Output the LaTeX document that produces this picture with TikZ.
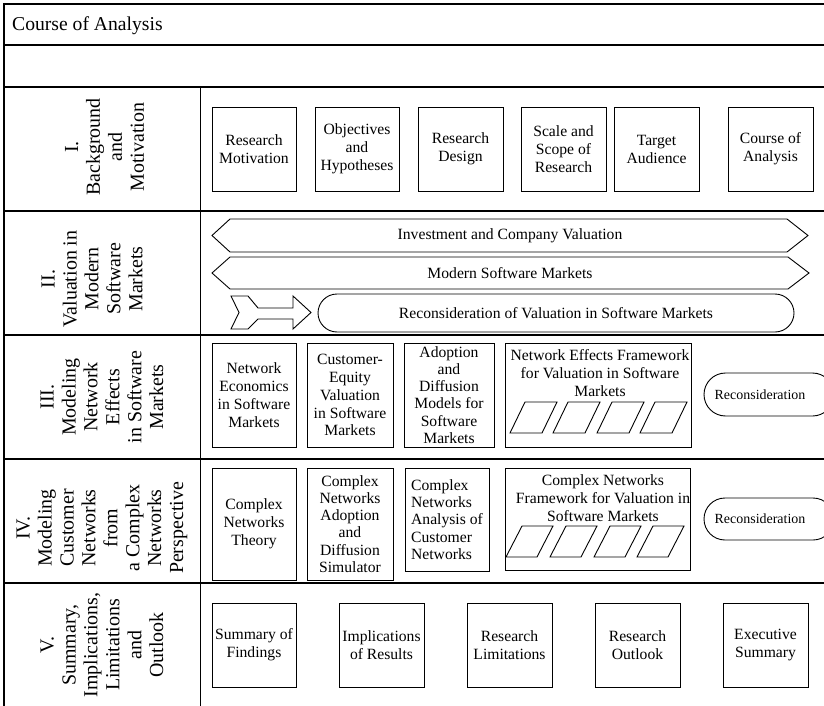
\documentclass[tikz,border=0pt]{standalone}
\usepackage{fontspec}
\setmainfont{Liberation Serif}
\newcommand{\cellfont}{\fontsize{15.7}{18}\selectfont}
\newcommand{\tightcellfont}{\fontsize{15.7}{17.3}\selectfont}
\newcommand{\smallcellfont}{\fontsize{14}{16}\selectfont}
\newcommand{\labfont}{\fontsize{20}{22}\selectfont}
\newcommand{\ttlfont}{\fontsize{19.7}{22}\selectfont}
\begin{document}
\begin{tikzpicture}[x=1bp,y=-1bp,
  frameline/.style={line width=1.3bp, line cap=rect},
  outline/.style={draw, line width=0.9bp, line join=miter},
  box/.style={outline, inner sep=0pt, align=center, font=\cellfont},
  plain/.style={inner sep=0pt, align=center, font=\cellfont},
  rowlabel/.style={rotate=90, align=center, inner sep=0pt, font=\labfont}]
\useasboundingbox (0,0) rectangle (824,706);

% table frame
\draw[frameline] (840,4) -- (4,4) -- (4,720);
\draw[frameline] (4,45) -- (840,45);
\draw[frameline] (4,87) -- (840,87);
\foreach \yy in {211,335,459,583}
  \draw[frameline] (4,\yy) -- (840,\yy);
\draw[line width=1bp] (200,87) -- (200,720);

\node[anchor=base west, inner sep=0pt, font=\ttlfont] (title) at (12,31) {Course of Analysis};

% row labels
\node[rowlabel] (lab1) at (104.5,147) {I.\\Background\\and\\Motivation};
\node[rowlabel] (lab2) at (92,279) {II.\\Valuation in\\Modern\\Software\\Markets};
\node[rowlabel] (lab3) at (102,397) {III.\\Modeling\\Network\\Effects\\in Software\\Markets};
\node[rowlabel] (lab4) at (102,528) {IV.\\Modeling\\Customer\\Networks\\from\\a Complex\\Networks\\Perspective};
\node[rowlabel] (lab5) at (102,645) {V.\\Summary,\\Implications,\\Limitations\\and\\Outlook};

% I. Background and Motivation
\node[box, minimum width=84bp, minimum height=84bp] (rm) at (254,149) {Research\\Motivation};
\node[box, minimum width=84bp, minimum height=84bp] (oh) at (357,149) {Objectives\\and\\Hypotheses};
\node[box, minimum width=85bp, minimum height=84bp] (rd) at (460.5,149) {Research\\Design};
\node[box, minimum width=85bp, minimum height=84bp] (ss) at (563.5,149) {Scale and\\Scope of\\Research};
\node[box, minimum width=85bp, minimum height=84bp] (ta) at (656.5,149) {Target\\Audience};
\node[box, minimum width=85bp, minimum height=84bp] (ca) at (770.5,149) {Course of\\Analysis};

% II. Valuation in Modern Software Markets
\draw[outline] (230,219) -- (787,219) -- (808,235.5) -- (787,252) -- (230,252) -- (212,235.5) -- cycle;
\node[plain] (icv) at (510,235.5) {Investment and Company Valuation};
\draw[outline] (230,257) -- (788,257) -- (809,273) -- (788,289) -- (230,289) -- (212,273) -- cycle;
\node[plain] (msm) at (510,273) {Modern Software Markets};
\draw[outline] (231,296) -- (248,296) -- (258,308) -- (293,308) -- (293,296) -- (311,312.5)
  -- (293,329) -- (293,319) -- (258,319) -- (248,329) -- (231,329) -- (239,312.5) -- cycle;
\draw[outline, rounded corners=19bp] (318,294) rectangle (794,332);
\node[plain] (rvs) at (556,313) {Reconsideration of Valuation in Software Markets};

% III. Modeling Network Effects in Software Markets
\node[box, minimum width=84bp, minimum height=104bp] (ne) at (254,395) {Network\\Economics\\in Software\\Markets};
\node[box, minimum width=86bp, minimum height=104bp] (ce) at (350,395) {Customer-\\Equity\\Valuation\\in Software\\Markets};
\node[box, minimum width=90bp, minimum height=104bp, font=\tightcellfont] (ad) at (449,395) {Adoption\\and\\Diffusion\\Models for\\Software\\Markets};
\node[box, minimum width=186bp, minimum height=104bp] (nef) at (598,395) {};
\node[plain] (neftext) at (600,373) {Network Effects Framework\\for Valuation in Software\\Markets};
\foreach \px in {510,553,597,640}
  \draw[outline] (\px,433) -- (\px+15,402) -- (\px+47,402) -- (\px+32,433) -- cycle;
\draw[outline, rounded corners=21.5bp] (704,373) rectangle (834,416);
\node[plain, font=\smallcellfont] (rc3) at (760,394.5) {Reconsideration};

% IV. Modeling Customer Networks from a Complex Networks Perspective
\node[box, minimum width=84bp, minimum height=112bp] (cnt) at (254,524) {Complex\\Networks\\Theory};
\node[box, minimum width=86bp, minimum height=112bp, font=\tightcellfont] (cna) at (350,524) {Complex\\Networks\\Adoption\\and\\Diffusion\\Simulator};
\node[box, minimum width=84bp, minimum height=103bp, align=left, font=\tightcellfont] (cnan) at (447,519.5) {Complex\\Networks\\Analysis of\\Customer\\Networks};
\node[box, minimum width=185bp, minimum height=102bp] (cnf) at (597.5,519) {};
\node[plain] (cnftext) at (603,498) {Complex Networks\\Framework for Valuation in\\Software Markets};
\foreach \px in {506,550,594,637}
  \draw[outline] (\px,557) -- (\px+16,526) -- (\px+47,526) -- (\px+31,557) -- cycle;
\draw[outline, rounded corners=21bp] (704,498) rectangle (834,540);
\node[plain, font=\smallcellfont] (rc4) at (760,519) {Reconsideration};

% V. Summary, Implications, Limitations and Outlook
\node[box, minimum width=84bp, minimum height=84bp] (sf) at (254,645) {Summary of\\Findings};
\node[box, minimum width=85bp, minimum height=84bp] (ir) at (381.5,645) {Implications\\of Results};
\node[box, minimum width=85bp, minimum height=84bp] (rl) at (509.5,645) {Research\\Limitations};
\node[box, minimum width=85bp, minimum height=84bp] (ro) at (637.5,645) {Research\\Outlook};
\node[box, minimum width=85bp, minimum height=84bp] (es) at (765.5,645) {Executive\\Summary};
\end{tikzpicture}
\end{document}
